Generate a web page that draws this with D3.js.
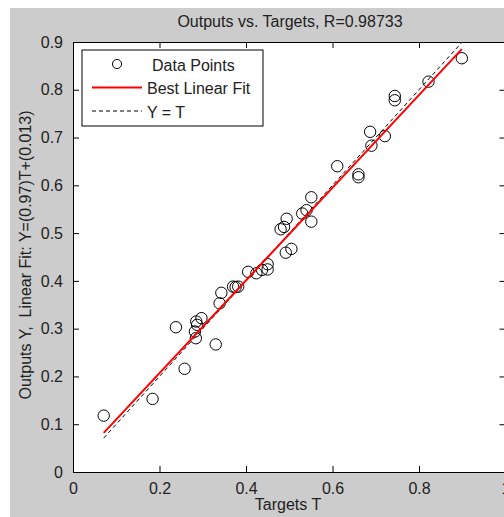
<!DOCTYPE html>
<meta charset="utf-8">
<style>
body { margin: 0; background: #fff; }
text { font-family: "Liberation Sans", Arial, sans-serif; }
</style>
<body>
<svg width="504" height="517"></svg>
<script src="https://d3js.org/d3.v7.min.js"></script>
<script>
// targets (T) and network outputs (Y)
var targets = [0.071, 0.184, 0.258, 0.238, 0.330, 0.284, 0.282, 0.287, 0.285, 0.297,
               0.339, 0.343, 0.370, 0.376, 0.382, 0.405, 0.424, 0.437, 0.450, 0.450,
               0.492, 0.505, 0.480, 0.488, 0.494, 0.530, 0.540, 0.551, 0.551, 0.611,
               0.660, 0.660, 0.687, 0.690, 0.721, 0.744, 0.744, 0.822, 0.899];
var outputs = [0.118, 0.153, 0.216, 0.303, 0.267, 0.280, 0.294, 0.308, 0.315, 0.322,
               0.353, 0.375, 0.388, 0.387, 0.388, 0.419, 0.416, 0.423, 0.435, 0.424,
               0.459, 0.467, 0.508, 0.513, 0.530, 0.541, 0.548, 0.524, 0.575, 0.640,
               0.623, 0.617, 0.712, 0.683, 0.703, 0.787, 0.778, 0.817, 0.866];
var fitSlope = 0.97, fitIntercept = 0.013;
var xTicks = [0, 0.2, 0.4, 0.6, 0.8, 1];
var yTicks = [0, 0.1, 0.2, 0.3, 0.4, 0.5, 0.6, 0.7, 0.8, 0.9];
var legendItems = ["Data Points", "Best Linear Fit", "Y = T"];

var svg = d3.select("svg"),
    margin = {top: 42, left: 73},
    width = 432.5,
    height = 430;

// grey figure background
svg.append("rect").attr("x", 10).attr("y", 8).attr("width", 494).attr("height", 509).attr("fill", "#cccccc");

var g = svg.append("g").attr("transform", "translate(" + margin.left + "," + margin.top + ")");

var x = d3.scaleLinear().domain([0, 1]).range([0, width]);
var y = d3.scaleLinear().domain([0, 0.9]).range([height, 0]);

g.append("rect").attr("width", width).attr("height", height).attr("fill", "#fff");

var fmt = function(d) { return d === 0 ? "0" : d === 1 ? "1" : d3.format(".1f")(d); };

// axes with inward ticks (box on)
var xAx = g.append("g").attr("transform", "translate(0," + height + ")")
    .call(d3.axisBottom(x).tickValues(xTicks).tickSizeInner(-6).tickSizeOuter(0).tickPadding(10).tickFormat(fmt));
var yAx = g.append("g")
    .call(d3.axisLeft(y).tickValues(yTicks).tickSizeInner(-6).tickSizeOuter(0).tickPadding(10).tickFormat(fmt));
g.append("g").call(d3.axisTop(x).tickValues(xTicks).tickSizeInner(-6).tickSizeOuter(0).tickFormat(""));
g.append("g").attr("transform", "translate(" + width + ",0)")
    .call(d3.axisRight(y).tickValues(yTicks).tickSizeInner(-6).tickSizeOuter(0).tickFormat(""));

g.selectAll(".domain").attr("stroke", "#000");
g.selectAll(".tick line").attr("stroke", "#000");
g.selectAll(".tick text").attr("font-size", 16).attr("fill", "#222");
xAx.selectAll(".tick text").attr("dy", "0.75em");

// data points
g.selectAll(".pt")
    .data(targets)
    .enter().append("circle")
    .attr("class", "pt")
    .attr("cx", function(d) { return x(d); })
    .attr("cy", function(d, i) { return y(outputs[i]); })
    .attr("r", 5.7)
    .attr("fill", "none")
    .attr("stroke", "#000")
    .attr("stroke-width", 1);

var tMin = d3.min(targets), tMax = d3.max(targets);

// Y = T
g.append("line")
    .attr("x1", x(tMin)).attr("y1", y(tMin))
    .attr("x2", x(tMax)).attr("y2", y(tMax))
    .attr("stroke", "#000").attr("stroke-width", 1).attr("stroke-dasharray", "4,3");

// best linear fit
g.append("line")
    .attr("x1", x(tMin)).attr("y1", y(fitSlope * tMin + fitIntercept))
    .attr("x2", x(tMax)).attr("y2", y(fitSlope * tMax + fitIntercept))
    .attr("stroke", "#ff0000").attr("stroke-width", 2);

// title and labels
svg.append("text").attr("x", 290).attr("y", 27).attr("text-anchor", "middle")
    .attr("font-size", 16).attr("fill", "#222").text("Outputs vs. Targets, R=0.98733");
svg.append("text").attr("x", 288).attr("y", 510).attr("text-anchor", "middle")
    .attr("font-size", 16).attr("fill", "#222").text("Targets T");
svg.append("text").attr("transform", "translate(31," + (margin.top + height / 2 - 2) + ") rotate(-90)")
    .attr("text-anchor", "middle").attr("font-size", 16).attr("fill", "#222")
    .style("white-space", "pre")
    .text("Outputs Y,  Linear Fit: Y=(0.97)T+(0.013)");

// legend
var lg = svg.append("g").attr("transform", "translate(82,50)");
lg.append("rect").attr("width", 181).attr("height", 76).attr("fill", "#fff").attr("stroke", "#000");

var row = lg.selectAll(".legend")
    .data(legendItems)
    .enter().append("g")
    .attr("class", "legend")
    .attr("transform", function(d, i) { return "translate(0," + (14 + i * 23.5) + ")"; });

row.append("text")
    .attr("x", function(d, i) { return i === 0 ? 70 : 65; })
    .attr("y", 6.5)
    .attr("font-size", 16).attr("fill", "#222")
    .text(function(d) { return d; });

row.filter(function(d, i) { return i === 0; }).append("circle")
    .attr("cx", 35).attr("r", 4.6).attr("fill", "none").attr("stroke", "#000");
row.filter(function(d, i) { return i === 1; }).append("line")
    .attr("x1", 10).attr("x2", 60).attr("stroke", "#ff0000").attr("stroke-width", 2);
row.filter(function(d, i) { return i === 2; }).append("line")
    .attr("x1", 10).attr("x2", 60).attr("stroke", "#000").attr("stroke-dasharray", "4,3");
</script>
</body>
